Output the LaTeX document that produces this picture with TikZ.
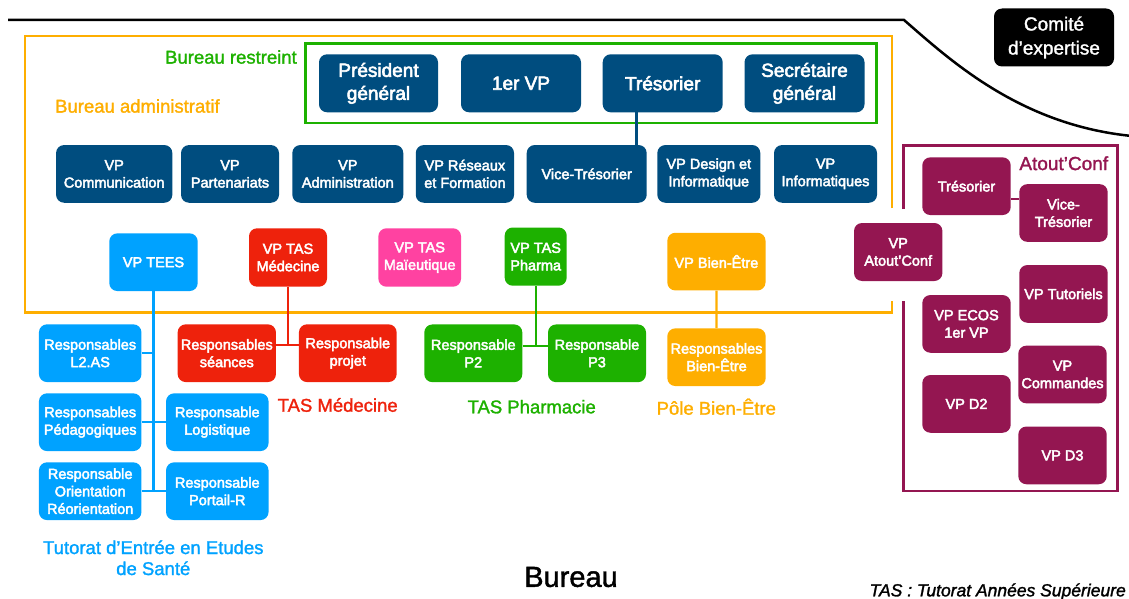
\documentclass[tikz,border=0pt]{standalone}
\usepackage{fontspec}
\setmainfont{Liberation Sans}
\newfontfamily\medfont[FakeBold=3]{Liberation Sans}
\newfontfamily\lblfont[FakeBold=1.5]{Liberation Sans}
\usetikzlibrary{calc}
\definecolor{cnavy}{HTML}{004D7F}
\definecolor{corange}{HTML}{FEAE00}
\definecolor{cgreen}{HTML}{1DB100}
\definecolor{cred}{HTML}{EE220C}
\definecolor{cpink}{HTML}{FF42A1}
\definecolor{cblue}{HTML}{00A2FF}
\definecolor{cplum}{HTML}{941651}
\begin{document}
\begin{tikzpicture}[x=1pt,y=-1pt,
  bx/.style={rounded corners=8pt, inner sep=0pt, align=center, text=white,
    font=\medfont\fontsize{14.5}{17.5}\selectfont, minimum height=57.7pt},
  big/.style={bx, fill=cnavy, font=\medfont\fontsize{19}{23}\selectfont,
    minimum height=58pt, minimum width=120pt},
  nv/.style={bx, fill=cnavy},
  bl/.style={bx, fill=cblue, minimum width=102.5pt},
  pl/.style={bx, fill=cplum, minimum width=88.4pt},
  lbl/.style={inner sep=0pt, align=center, font=\lblfont\fontsize{18.5}{21}\selectfont},
  ln/.style={line width=2.2pt},
  frame/.style={line width=2.5pt}
]
\useasboundingbox (0,0) rectangle (1129,599);

% frames
\draw[frame, black] (8,20) -- (904,20) .. controls (950,60) and (1020,125) .. (1132,136);
\draw[frame, corange] (892,208) -- (892,36) -- (25,36) -- (25,312.5) -- (892,312.5) -- (892,300.7);
\draw[frame, cgreen] (305.7,43.3) rectangle (876.7,123);
\draw[frame, cplum] (903.3,209) -- (903.3,145.7) -- (1117.7,145.7) -- (1117.7,491) -- (903.3,491) -- (903.3,300.7);

% Comite
\node[bx, fill=black, font=\lblfont\fontsize{19}{24}\selectfont, minimum width=120pt, minimum height=58pt] (comite) at (1054,37.5) {Comité\\d’expertise};

% Bureau restreint
\node[big, minimum width=119pt] (pres) at (378.5,83.3) {Président\\général};
\node[big] (vp1) at (521,83.3) {1er VP};
\node[big] (treso) at (662.7,83.3) {Trésorier};
\node[big] (secr) at (804.5,83.3) {Secrétaire\\général};

% Row 2
\node[nv, minimum width=116.3pt] (comm) at (114.2,173.9) {VP\\Communication};
\node[nv, minimum width=98pt] (part) at (230,173.9) {VP\\Partenariats};
\node[nv, minimum width=111pt] (admin) at (347.8,173.9) {VP\\Administration};
\node[nv, minimum width=98.3pt] (reseaux) at (464.9,173.9) {VP Réseaux\\et Formation};
\node[nv, minimum width=120pt] (vicetreso) at (586.7,173.9) {Vice-Trésorier};
\node[nv, minimum width=103pt] (design) at (708.8,173.9) {VP Design et\\Informatique};
\node[nv, minimum width=103pt] (info) at (825.5,173.9) {VP\\Informatiques};

% Row 3
\node[bx, fill=cblue, minimum width=88.4pt] (tees) at (153.5,262.2) {VP TEES};
\node[bx, fill=cred, minimum width=78pt, minimum height=58.4pt] (med) at (288,257.5) {VP TAS\\Médecine};
\node[bx, fill=cpink, minimum width=82.7pt, minimum height=58.4pt] (maieu) at (419.7,257.5) {VP TAS\\Maïeutique};
\node[bx, fill=cgreen, minimum width=62pt, minimum height=58.2pt] (pharma) at (535.7,256.6) {VP TAS\\Pharma};
\node[bx, fill=corange, minimum width=98.2pt] (bienetre) at (716.4,261.6) {VP Bien-Être};
\node[pl, minimum height=58pt] (vpatout) at (898.2,252) {VP\\Atout’Conf};

% TEES
\node[bl] (l2as) at (90.2,353.2) {Responsables\\L2.AS};
\node[bl] (peda) at (90.2,422.2) {Responsables\\Pédagogiques};
\node[bl] (orient) at (90.2,491.2) {Responsable\\Orientation\\Réorientation};
\node[bl] (logi) at (217.3,422.2) {Responsable\\Logistique};
\node[bl] (portail) at (217.3,491.2) {Responsable\\Portail-R};

% Medecine
\node[bx, fill=cred, minimum width=98.3pt] (seances) at (226.8,353.2) {Responsables\\séances};
\node[bx, fill=cred, minimum width=97.7pt] (projet) at (347.8,353.2) {Responsable\\projet};

% Pharma
\node[bx, fill=cgreen, minimum width=98pt] (p2) at (473.3,353.3) {Responsable\\P2};
\node[bx, fill=cgreen, minimum width=98pt] (p3) at (597,353.3) {Responsable\\P3};

% Bien-Etre
\node[bx, fill=corange, minimum width=98.4pt] (bienresp) at (716.5,357.2) {Responsables\\Bien-Être};

% Atout'Conf
\node[pl] (atres) at (966.5,186.2) {Trésorier};
\node[pl] (avice) at (1063.5,213) {Vice-\\Trésorier};
\node[pl] (atuto) at (1063.5,293.9) {VP Tutoriels};
\node[pl] (aecos) at (966.5,323.9) {VP ECOS\\1er VP};
\node[pl] (acomm) at (1062.5,374.5) {VP\\Commandes};
\node[pl] (ad2) at (966.5,403.9) {VP D2};
\node[pl] (ad3) at (1062.5,455.4) {VP D3};

% connectors
\draw[ln, cnavy] ($(treso.south west)+(34,0)$) -- ($(vicetreso.north west)+(110,0)$);
\draw[ln, cblue] (tees.south) -- (tees.south |- orient.east);
\draw[ln, cblue] (l2as.east) -- (l2as.east -| tees.south);
\draw[ln, cblue] (peda.east) -- (logi.west);
\draw[ln, cblue] (orient.east) -- (portail.west);
\draw[ln, cred] (med.south) -- (med.south |- 0,345);
\draw[ln, cred] (seances.east |- 0,345) -- (projet.west |- 0,345);
\draw[ln, cgreen] (pharma.south) -- (pharma.south |- 0,345.7);
\draw[ln, cgreen] (p2.east |- 0,345.7) -- (p3.west |- 0,345.7);
\draw[ln, corange] (bienetre.south) -- (bienresp.north);
\draw[ln, cplum] (atres.east |- 0,199.3) -- (avice.west |- 0,199.3);

% labels
\node[lbl, text=cgreen, anchor=east] (lrestr) at (297,57) {Bureau restreint};
\node[lbl, text=corange, anchor=west] (ladmin) at (55,106) {Bureau administratif};
\node[lbl, text=cplum, font=\lblfont\fontsize{19}{21}\selectfont, anchor=east] (latout) at (1108.3,163.3) {Atout’Conf};
\node[lbl, text=cred] (lmed) at (337.7,405) {TAS Médecine};
\node[lbl, text=cgreen] (lphar) at (531.7,406.7) {TAS Pharmacie};
\node[lbl, text=corange] (lbien) at (716.3,406.7) {Pôle Bien-Être};
\node[lbl, text=cblue] (ltees) at (153.3,557.8) {Tutorat d’Entrée en Etudes\\de Santé};
\node[lbl, font=\lblfont\fontsize{29}{31}\selectfont] (ltitle) at (571,577) {Bureau};
\node[lbl, font=\lblfont\itshape\fontsize{17.5}{20}\selectfont, anchor=east] (lfoot) at (1126,591.7) {TAS : Tutorat Années Supérieure};
\end{tikzpicture}
\end{document}
